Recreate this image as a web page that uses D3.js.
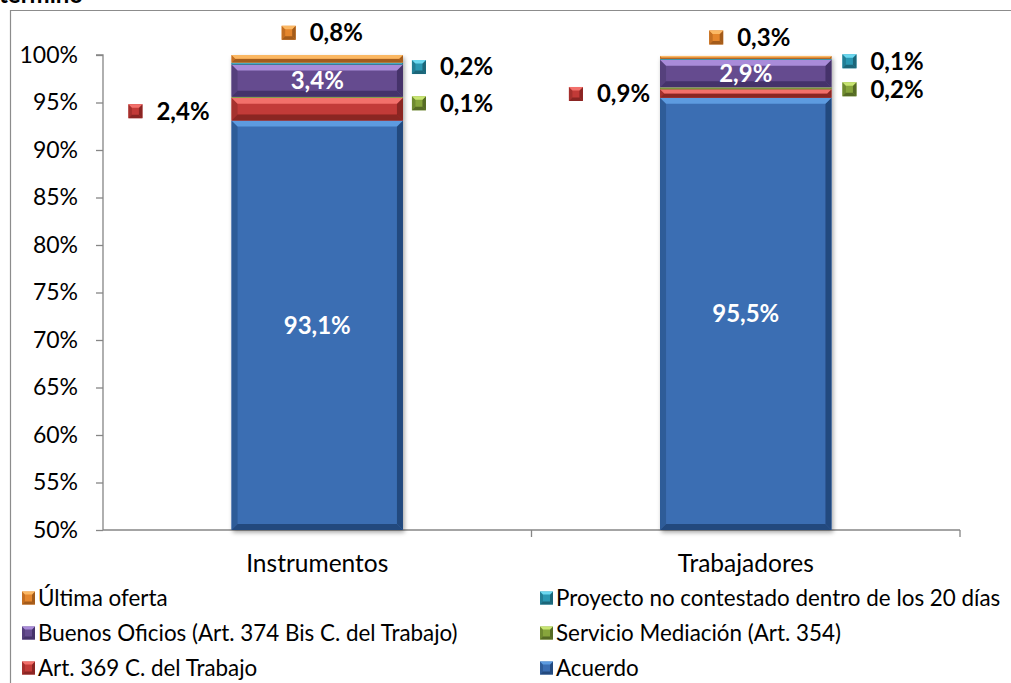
<!DOCTYPE html>
<html><head><meta charset="utf-8">
<script src="https://cdn.jsdelivr.net/npm/d3@7"></script>
<style>
html,body{margin:0;padding:0;background:#fff;}
svg{display:block;font-family:Lato,"Open Sans",sans-serif;}
</style></head>
<body><svg id="c" width="1011" height="683"></svg>
<script>
// ---- data ----
const categories = ["Instrumentos", "Trabajadores"];
const seriesNames = ["Acuerdo", "Art. 369 C. del Trabajo", "Servicio Mediación (Art. 354)",
  "Buenos Oficios (Art. 374 Bis C. del Trabajo)", "Proyecto no contestado dentro de los 20 días", "Última oferta"];
const acuerdo   = [93.1, 95.5];
const art369    = [2.4, 0.9];
const servicio  = [0.1, 0.2];
const buenos    = [3.4, 2.9];
const proyecto  = [0.2, 0.1];
const ultima    = [0.8, 0.3];
const yTicks = [50, 55, 60, 65, 70, 75, 80, 85, 90, 95, 100];
const legendOrder = ["Última oferta", "Proyecto no contestado dentro de los 20 días",
  "Buenos Oficios (Art. 374 Bis C. del Trabajo)", "Servicio Mediación (Art. 354)",
  "Art. 369 C. del Trabajo", "Acuerdo"];

// ---- style / layout ----
const colors = {
  "Acuerdo": {base:"#3b6eb3", light:"#5d9be0", dark:"#244a7e", side:"#2f5c98"},
  "Art. 369 C. del Trabajo": {base:"#c23a37", light:"#f2706b", dark:"#8a2523", side:"#a5302d"},
  "Servicio Mediación (Art. 354)": {base:"#87a53c", light:"#c8e572", dark:"#566b25", side:"#6f8a30"},
  "Buenos Oficios (Art. 374 Bis C. del Trabajo)": {base:"#654c8f", light:"#a98bd9", dark:"#45336a", side:"#553f7c"},
  "Proyecto no contestado dentro de los 20 días": {base:"#2a97b2", light:"#6bd8f0", dark:"#1c6679", side:"#227e95"},
  "Última oferta": {base:"#e5862c", light:"#fbb864", dark:"#a35b1a", side:"#c46f22"}
};
const labelPlace = {
  "Acuerdo": [{pos:"in"}, {pos:"in"}],
  "Art. 369 C. del Trabajo": [{pos:"left", gap:22, dy:2}, {pos:"left", gap:10, dy:0.5}],
  "Servicio Mediación (Art. 354)": [{pos:"right", gap:9, dy:6}, {pos:"right", gap:11, dy:1}],
  "Buenos Oficios (Art. 374 Bis C. del Trabajo)": [{pos:"in"}, {pos:"in"}],
  "Proyecto no contestado dentro de los 20 días": [{pos:"right", gap:9, dy:3.5}, {pos:"right", gap:11, dy:2}],
  "Última oferta": [{pos:"top", dx:5, dy:-26}, {pos:"top", dx:4, dy:-20}]
};
const FS = 23, FSB = 24, FSL = 22.4, FSC = 24.5;

const svg = d3.select("#c");
const M = {left:103, right:960, top:55, bottom:530};
const fmt = v => d3.format(".1f")(v).replace(".", ",") + "%";

svg.append("path").attr("d", "M10.5,683 L10.5,10.5 L1011,10.5").attr("fill","none").attr("stroke","#8c8c8c").attr("stroke-width",1.2);
svg.append("text").attr("x", -1).attr("y", 3).attr("font-weight","bold").attr("font-size",24).attr("fill","#000").text("término");

const x = d3.scaleBand().domain(categories).range([M.left, M.right]).padding(0);
const y = d3.scaleLinear().domain([50, 100]).range([M.bottom, M.top]);
const barW = x.bandwidth() * 0.4;

const defs = svg.append("defs");
const f = defs.append("filter").attr("id","sh").attr("x","-10%").attr("y","-10%").attr("width","130%").attr("height","130%");
f.append("feDropShadow").attr("dx",1.5).attr("dy",2.5).attr("stdDeviation",2).attr("flood-color","#000").attr("flood-opacity",0.35);

const yAxis = d3.axisLeft(y).tickValues(yTicks).tickSize(7).tickPadding(18).tickFormat(d => d + "%");
const gy = svg.append("g").attr("transform", `translate(${M.left},0)`).call(yAxis);
gy.select(".domain").attr("stroke","#868686").attr("stroke-width",1.3).attr("d", `M-7,${M.top}H0V${M.bottom}`);
gy.selectAll(".tick line").attr("stroke","#868686").attr("stroke-width",1.3);
gy.selectAll(".tick text").attr("font-size",FS).attr("fill","#000").attr("font-family","Lato,sans-serif");

const gx = svg.append("g").attr("transform", `translate(0,${M.bottom})`);
gx.append("line").attr("x1",M.left).attr("x2",M.right).attr("stroke","#868686").attr("stroke-width",1.3);
[M.left + x.step(), M.right].forEach(px => gx.append("line").attr("x1",px).attr("x2",px).attr("y1",0).attr("y2",7).attr("stroke","#868686").attr("stroke-width",1.3));

function bevel(g, x0, y0, w, h, c, bmax) {
  const x1 = x0 + w, y1 = y0 + h;
  const b = Math.max(0, Math.min(bmax, h/2, w/2));
  g.append("rect").attr("x",x0).attr("y",y0).attr("width",w).attr("height",h).attr("fill",c.base);
  if (b <= 0) return;
  const poly = (pts, fill) => g.append("polygon").attr("points", pts.map(p => p.join(",")).join(" ")).attr("fill", fill);
  poly([[x0,y0],[x0+b,y0+b],[x0+b,y1-b],[x0,y1]], c.side);
  poly([[x1,y0],[x1-b,y0+b],[x1-b,y1-b],[x1,y1]], c.dark);
  poly([[x0,y1],[x1,y1],[x1-b,y1-b],[x0+b,y1-b]], c.dark);
  poly([[x0,y0],[x1,y0],[x1-b,y0+b],[x0+b,y0+b]], c.light);
}

const seriesVals = [acuerdo, art369, servicio, buenos, proyecto, ultima];
const table = categories.map((cat, i) => {
  const row = {cat};
  seriesNames.forEach((s, k) => row[s] = seriesVals[k][i]);
  return row;
});
const stack = d3.stack().keys(seriesNames)(table);
const yMin = y.domain()[0];

const barsG = svg.append("g").attr("filter","url(#sh)");
stack.forEach(layer => {
  layer.forEach((d, i) => {
    const cat = categories[i];
    const bx = x(cat) + (x.bandwidth() - barW)/2;
    const yTop = y(Math.max(d[1], yMin)), yBot = y(Math.max(d[0], yMin));
    const g = barsG.append("g");
    bevel(g, bx, yTop, barW, yBot - yTop, colors[layer.key], 6);
  });
});

gx.selectAll("text.cat").data(categories).join("text").attr("class","cat")
  .attr("x", d => x(d) + x.bandwidth()/2).attr("y", 42).attr("text-anchor","middle")
  .attr("font-size",FSC).attr("fill","#000").text(d => d);

const labG = svg.append("g");
stack.forEach(layer => {
  layer.forEach((d, i) => {
    const cat = categories[i];
    const v = d[1] - d[0];
    const bx = x(cat) + (x.bandwidth() - barW)/2;
    const mid = y((Math.max(d[0], yMin) + d[1])/2);
    const pl = labelPlace[layer.key][i];
    const c = colors[layer.key];
    if (pl.pos === "in") {
      labG.append("text").attr("x", bx + barW/2).attr("y", mid).attr("dy","0.35em").attr("text-anchor","middle")
        .attr("font-size",FSB).attr("font-weight","bold").attr("fill","#fff").text(fmt(v));
      return;
    }
    const g = labG.append("g");
    const t = g.append("text").attr("font-size",FSB).attr("font-weight","bold").attr("fill","#000").text(fmt(v));
    const tw = t.node().getComputedTextLength();
    const total = 28 + tw;
    let gx0, cy = mid + (pl.dy || 0);
    if (pl.pos === "right") gx0 = bx + barW + pl.gap;
    else if (pl.pos === "left") gx0 = bx - pl.gap - total;
    else gx0 = bx + barW/2 + (pl.dx || 0) - total/2;
    bevel(g, gx0, cy - 7, 14, 14, c, 3.5);
    t.attr("x", gx0 + 28).attr("y", cy).attr("dy","0.35em");
  });
});

const lg = svg.append("g");
legendOrder.forEach((name, k) => {
  const col = k % 2, row = Math.floor(k / 2);
  const lx = col === 0 ? 22 : 540;
  const ly = 598 + row * 35;
  const g = lg.append("g");
  bevel(g, lx, ly - 6.5, 13, 13, colors[name], 3);
  g.append("text").attr("x", lx + 16).attr("y", ly).attr("dy","0.35em").attr("font-size",FSL).attr("fill","#000").text(name);
});
</script>
</body></html>
